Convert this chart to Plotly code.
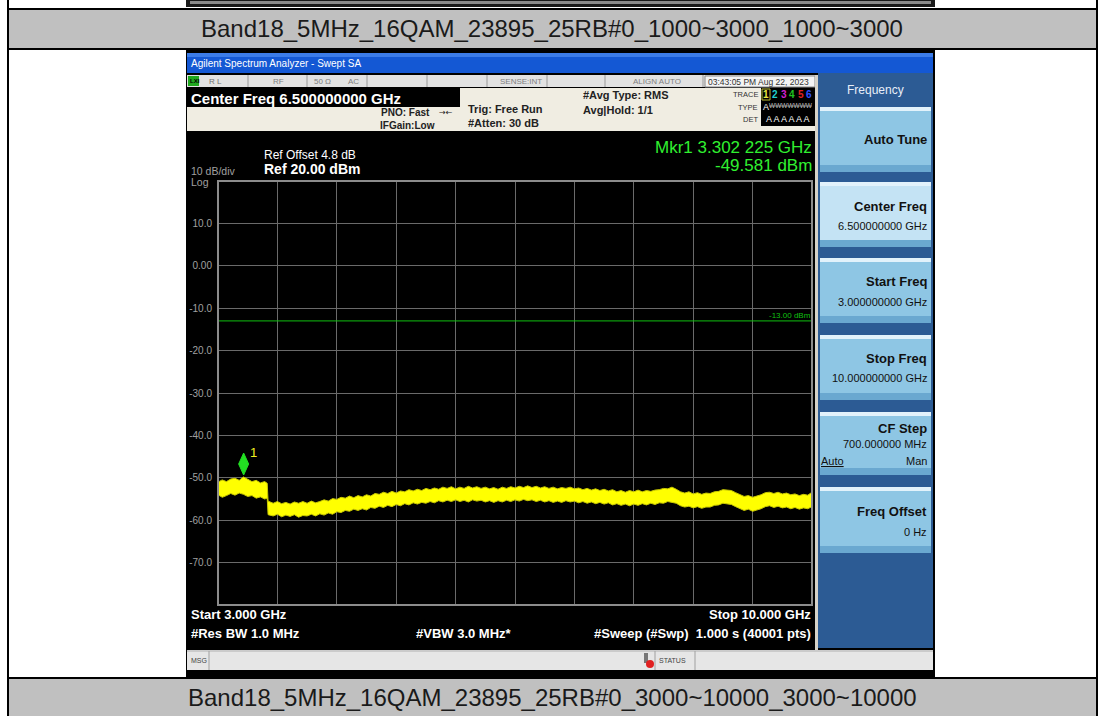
import plotly.graph_objects as go

W, H = 1105, 716

# sweep data (upper / lower edge of the noisy yellow trace)
freq_ghz = [3.00, 3.05, 3.10, 3.15, 3.20, 3.25, 3.30, 3.35, 3.40, 3.45, 3.50, 3.55, 3.58, 3.59,
            3.65, 3.70, 3.75, 3.80, 3.85, 3.90, 3.95, 4.00, 4.05, 4.10, 4.15, 4.20, 4.25, 4.30,
            4.35, 4.40, 4.45, 4.50, 4.55, 4.60, 4.65, 4.70, 4.75, 4.80, 4.85, 4.90, 4.95, 5.00,
            5.05, 5.10, 5.15, 5.20, 5.25, 5.30, 5.35, 5.40, 5.45, 5.50, 5.55, 5.60, 5.65, 5.70,
            5.75, 5.80, 5.85, 5.90, 5.95, 6.00, 6.05, 6.10, 6.15, 6.20, 6.25, 6.30, 6.35, 6.40,
            6.45, 6.50, 6.55, 6.60, 6.65, 6.70, 6.75, 6.80, 6.85, 6.90, 6.95, 7.00, 7.05, 7.10,
            7.15, 7.20, 7.25, 7.30, 7.35, 7.40, 7.45, 7.50, 7.55, 7.60, 7.65, 7.70, 7.75, 7.80,
            7.85, 7.90, 7.95, 8.00, 8.05, 8.10, 8.15, 8.20, 8.25, 8.30, 8.35, 8.40, 8.45, 8.50,
            8.55, 8.60, 8.65, 8.70, 8.75, 8.80, 8.85, 8.90, 8.95, 9.00, 9.05, 9.10, 9.15, 9.20,
            9.25, 9.30, 9.35, 9.40, 9.45, 9.50, 9.55, 9.60, 9.65, 9.70, 9.75, 9.80, 9.85, 9.90,
            9.95, 10.00]
upper_dbm = [-51.0, -50.5, -50.9, -50.3, -50.1, -50.6, -49.8, -50.4, -50.9, -50.6, -51.2, -50.9, -51.3, -55.5,
             -56.0, -55.6, -56.1, -55.8, -56.2, -55.7, -56.0, -55.6, -56.0, -55.5, -55.9, -55.6, -55.2, -55.5,
             -54.9, -55.1, -54.6, -54.8, -54.3, -54.7, -54.2, -54.5, -54.0, -54.3, -53.7, -53.9, -53.4, -53.7,
             -53.2, -53.6, -53.1, -53.3, -52.8, -53.1, -52.7, -53.0, -52.5, -52.8, -52.4, -52.7, -52.2, -52.5,
             -52.1, -52.6, -52.2, -52.5, -52.0, -52.4, -52.1, -52.5, -52.2, -52.6, -52.3, -52.7, -52.2, -52.5,
             -52.1, -52.4, -52.0, -52.3, -51.9, -52.3, -52.0, -52.4, -52.1, -52.5, -52.2, -52.6, -52.3, -52.5,
             -52.2, -52.6, -52.4, -52.8, -52.5, -52.9, -52.6, -53.0, -52.7, -53.1, -52.8, -53.3, -53.0, -53.4,
             -53.0, -53.3, -52.9, -53.3, -53.0, -53.2, -52.9, -52.8, -52.5, -52.6, -52.2, -52.7, -53.3, -53.6,
             -53.3, -53.8, -53.5, -53.9, -53.6, -53.7, -53.3, -53.2, -52.8, -52.9, -53.0, -53.5, -54.0, -54.4,
             -54.2, -54.6, -54.3, -54.0, -53.5, -53.4, -53.7, -53.4, -53.8, -53.6, -54.0, -53.8, -54.2, -53.9,
             -54.1, -53.4]
lower_dbm = [-54.0, -54.6, -54.2, -53.7, -54.1, -53.6, -53.9, -54.4, -54.2, -54.8, -54.5, -55.0, -54.8, -58.7,
             -59.0, -58.6, -59.2, -58.8, -59.1, -58.7, -59.3, -58.9, -59.0, -58.6, -59.0, -58.5, -58.8, -58.3,
             -58.6, -58.0, -58.2, -57.7, -57.9, -57.4, -57.7, -57.3, -57.6, -57.0, -57.2, -56.7, -57.0, -56.5,
             -56.8, -56.3, -56.6, -56.1, -56.4, -55.9, -56.2, -55.8, -56.0, -55.6, -55.9, -55.4, -55.7, -55.3,
             -55.6, -55.2, -55.6, -55.3, -55.7, -55.2, -55.5, -55.3, -55.7, -55.4, -55.8, -55.4, -55.7, -55.3,
             -55.6, -55.2, -55.5, -55.1, -55.4, -55.2, -55.6, -55.3, -55.7, -55.4, -55.8, -55.5, -55.8, -55.4,
             -55.7, -55.5, -55.9, -55.6, -56.0, -55.7, -56.1, -55.8, -56.2, -55.9, -56.4, -56.1, -56.5, -56.2,
             -56.6, -56.2, -56.5, -56.1, -56.4, -56.0, -56.3, -55.9, -56.0, -55.6, -55.8, -56.0, -56.6, -56.9,
             -56.7, -57.1, -56.8, -57.2, -56.9, -56.9, -56.5, -56.4, -56.0, -56.1, -56.3, -56.8, -57.2, -57.7,
             -57.4, -57.9, -57.6, -57.3, -56.8, -56.6, -57.0, -56.7, -57.1, -56.9, -57.3, -57.0, -57.4, -57.1,
             -57.3, -56.8]

start_ghz, stop_ghz = 3.0, 10.0
ref_level, bottom_level = 20, -80
y_tick_vals = [10, 0, -10, -20, -30, -40, -50, -60, -70]
y_tick_text = ["10.0", "0.00", "-10.0", "-20.0", "-30.0", "-40.0", "-50.0", "-60.0", "-70.0"]
display_line_dbm = -13.0
mkr_freq_ghz = 3.302225
mkr_level_dbm = -49.581

SANS = "Liberation Sans, Arial, sans-serif"
shapes = []
annotations = []


def box(x0, y0, x1, y1, fill, line_color=None, line_width=0):
    shapes.append(dict(type="rect", xref="paper", yref="paper", layer="below",
                       x0=x0 / W, x1=x1 / W, y0=1 - y1 / H, y1=1 - y0 / H,
                       fillcolor=fill, line=dict(color=line_color or fill, width=line_width)))


def seg(x0, y0, x1, y1, color, width=1):
    shapes.append(dict(type="line", xref="paper", yref="paper", layer="below",
                       x0=x0 / W, x1=x1 / W, y0=1 - y0 / H, y1=1 - y1 / H,
                       line=dict(color=color, width=width)))


def label(x, y, text, size=12, color="#000", anchor="left", family=SANS):
    annotations.append(dict(xref="paper", yref="paper", x=x / W, y=1 - y / H, text=text,
                            showarrow=False, xanchor=anchor, yanchor="middle", borderpad=0,
                            font=dict(size=size, color=color, family=family)))


# ---- report table around the screenshot ----
box(186, 0, 935, 7, "#1a1a1a")
box(190, 1, 931, 4, "#8c8c8c")
box(8, 9, 1097, 49, "#c0c0c0", "#000", 2)
box(8, 678, 1097, 718, "#c0c0c0", "#000", 2)
seg(8, 0, 8, 716, "#000", 2)
seg(1097, 0, 1097, 716, "#000", 2)
label(552, 28, "Band18_5MHz_16QAM_23895_25RB#0_1000~3000_1000~3000", 24, "#1a1a1a", "center",
      "Liberation Sans Narrow, Liberation Sans, Arial")
label(552, 697, "Band18_5MHz_16QAM_23895_25RB#0_3000~10000_3000~10000", 24, "#1a1a1a", "center",
      "Liberation Sans Narrow, Liberation Sans, Arial")

# ---- instrument frame ----
box(186, 50, 935, 678, "#000")
box(187, 53, 933, 73, "#1458d4")
box(187, 53, 933, 57, "#3c7ce8")
label(190, 63, "Agilent Spectrum Analyzer - Swept SA", 10, "white")

# status row
box(187, 75, 817, 87, "#e2e2e2")
for sx in [248, 307, 367, 427, 487, 547, 605, 703]:
    seg(sx, 75, sx, 87, "#9a9a9a")
box(188, 76, 199, 86, "#1fa81f")
label(189, 81, "<b>LXI</b>", 6, "#000")
label(208, 81, "R L", 8, "#707070")
label(272, 81, "RF", 8, "#808080")
label(313, 81, "50 Ω", 8, "#808080")
label(347, 81, "AC", 8, "#808080")
label(543, 81, "SENSE:INT", 8, "#808080", "right")
label(632, 81, "ALIGN AUTO", 8, "#808080")
box(705, 76, 815, 87, "#f4f4f4", "#888", 1)
label(707, 81.5, "03:43:05 PM Aug 22, 2023", 8.5, "#333")

# settings area
box(187, 88, 817, 131, "#f0ede2")
box(187, 88, 460, 107, "#000")
label(190, 98, "<b>Center Freq 6.500000000 GHz</b>", 15, "white")
label(431, 113, "<b>PNO: Fast</b>", 10, "#222", "right")
label(438, 113, "→←", 8, "#222", "left", "DejaVu Sans")
label(436, 125, "<b>IFGain:Low</b>", 10, "#222", "right")
label(467, 109, "<b>Trig: Free Run</b>", 11, "#222")
label(467, 123, "<b>#Atten: 30 dB</b>", 11, "#222")
label(582, 95, "<b>#Avg Type: RMS</b>", 11, "#222")
label(582, 110, "<b>Avg|Hold: 1/1</b>", 11, "#222")
label(759, 94, "TRACE", 7.5, "#333", "right")
label(759, 107, "TYPE", 7.5, "#333", "right")
label(759, 119, "DET", 7.5, "#333", "right")
box(761, 88, 815, 126, "#000")
box(762, 89, 770, 100, "#000", "#b8b830", 1)
for tx, tnum, tcol in [(766, "1", "#e8e840"), (775, "2", "#20d0d0"), (783.5, "3", "#d020d0"),
                       (792, "4", "#20c020"), (800.5, "5", "#e02020"), (809, "6", "#3050ff")]:
    label(tx, 94.5, "<b>" + tnum + "</b>", 10, tcol, "center")
label(766, 107, "A", 9, "white", "center")
label(791, 106, "<s>WWWWWWW</s>", 6.5, "#bbbbbb", "center")
label(788, 119, "A A A A A A", 9, "white", "center")

# display area + side strip
box(187, 131, 815, 650, "#000")
box(815, 75, 818, 650, "#d6d2c8")

# soft key panel
box(818, 73, 933, 648, "#2c5b94")
label(875, 90, "Frequency", 12, "#e8eef8", "center")
buttons = [(107, 172, "#8ec6e4"), (182, 247, "#c4e3f4"), (258, 323, "#8ec6e4"),
           (335, 400, "#8ec6e4"), (412, 475, "#8ec6e4"), (487, 553, "#8ec6e4")]
for by0, by1, bcol in buttons:
    box(820, by0, 931, by1, bcol)
    box(820, by0, 931, by0 + 4, "#e2f2fb")
    box(820, by1 - 7, 931, by1, "#6aa8d0")
label(928, 140, "<b>Auto Tune</b>", 13, "#111", "right")
label(928, 206, "<b>Center Freq</b>", 13, "#111", "right")
label(928, 226, "6.500000000 GHz", 11, "#111", "right")
label(928, 282, "<b>Start Freq</b>", 13, "#111", "right")
label(928, 302, "3.000000000 GHz", 11, "#111", "right")
label(928, 358, "<b>Stop Freq</b>", 13, "#111", "right")
label(928, 378, "10.000000000 GHz", 11, "#111", "right")
label(928, 428, "<b>CF Step</b>", 13, "#111", "right")
label(928, 444, "700.000000 MHz", 11, "#111", "right")
label(820, 461, "<u>Auto</u>", 11, "#111")
label(928, 461, "Man", 11, "#111", "right")
label(928, 511, "<b>Freq Offset</b>", 13, "#111", "right")
label(928, 532, "0 Hz", 11, "#111", "right")

# message bar
box(187, 650, 933, 670, "#e6e6e6")
seg(187, 651, 933, 651, "#b0b0b0")
seg(209, 651, 209, 670, "#a0a0a0")
seg(655, 651, 655, 670, "#a0a0a0")
seg(695, 651, 695, 670, "#a0a0a0")
label(190, 660, "MSG", 7, "#444")
label(658, 660, "STATUS", 7, "#444")
box(644, 653, 648, 663, "#777")
shapes.append(dict(type="circle", xref="paper", yref="paper", layer="below",
                   x0=646 / W, x1=654 / W, y0=1 - 668 / H, y1=1 - 660 / H,
                   fillcolor="#e02020", line=dict(color="#e02020", width=0)))

# display texts
label(263, 155, "Ref Offset 4.8 dB", 12, "white")
label(263, 169, "<b>Ref 20.00 dBm</b>", 14, "white")
label(190, 171, "10 dB/div", 10.5, "#a0a0a0")
label(190, 182, "Log", 10.5, "#a0a0a0")
label(813, 147, "Mkr1 3.302 225 GHz", 17, "#30f030", "right")
label(813, 165, "-49.581 dBm", 17, "#30f030", "right")
label(190, 614, "<b>Start 3.000 GHz</b>", 13, "white")
label(812, 614, "<b>Stop 10.000 GHz</b>", 13, "white", "right")
label(190, 633, "<b>#Res BW 1.0 MHz</b>", 13, "white")
label(415, 633, "<b>#VBW 3.0 MHz*</b>", 13, "white")
label(812, 633, "<b>#Sweep (#Swp)&nbsp; 1.000 s (40001 pts)</b>", 13, "white", "right")

# graticule border
shapes.append(dict(type="rect", xref="x domain", yref="y domain", x0=0, x1=1, y0=0, y1=1,
                   line=dict(color="#8c8c8c", width=2), layer="above"))

# marker diamond sitting on the marked point
shapes.append(dict(type="path", xref="x", yref="y", xsizemode="pixel", ysizemode="pixel",
                   xanchor=mkr_freq_ghz, yanchor=mkr_level_dbm,
                   path="M 0 1 L -5 12 L 0 23 L 5 12 Z",
                   fillcolor="#22e022", line=dict(color="#22e022", width=1), layer="above"))
annotations.append(dict(xref="x", yref="y", x=mkr_freq_ghz, y=mkr_level_dbm, text="1",
                        showarrow=False, xshift=10, yshift=24,
                        font=dict(size=13, color="#f0f020", family=SANS)))
annotations.append(dict(xref="x", yref="y", x=stop_ghz, y=display_line_dbm, text="-13.00 dBm",
                        showarrow=False, xanchor="right", yanchor="bottom", borderpad=0,
                        font=dict(size=8, color="#10c010", family=SANS)))

fig = go.Figure()
fig.add_trace(go.Scatter(x=[start_ghz, stop_ghz], y=[display_line_dbm, display_line_dbm],
                         mode="lines", line=dict(color="#10c010", width=1), hoverinfo="skip"))
fig.add_trace(go.Scatter(x=freq_ghz, y=lower_dbm, mode="lines",
                         line=dict(color="#c8c800", width=1)))
fig.add_trace(go.Scatter(x=freq_ghz, y=upper_dbm, mode="lines", fill="tonexty",
                         fillcolor="#ffff00", line=dict(color="#c8c800", width=1)))

fig.update_layout(
    width=W, height=H, margin=dict(l=0, r=0, t=0, b=0), template="none",
    paper_bgcolor="white", plot_bgcolor="rgba(0,0,0,0)", showlegend=False,
    shapes=shapes, annotations=annotations,
    xaxis=dict(domain=[218 / W, 812 / W], range=[start_ghz, stop_ghz], tick0=start_ghz, dtick=0.7,
               showgrid=True, gridcolor="#6a6a6a", gridwidth=1, showticklabels=False,
               zeroline=False, showline=False, ticks=""),
    yaxis=dict(domain=[1 - 605 / H, 1 - 181 / H], range=[bottom_level, ref_level],
               tickvals=y_tick_vals, ticktext=y_tick_text, showgrid=True, gridcolor="#6a6a6a",
               gridwidth=1, zeroline=False, showline=False, ticks="outside", ticklen=3,
               tickcolor="#000", tickfont=dict(size=10, color="#a0a0a0", family=SANS)),
)

fig.write_html("out.html", config={"displayModeBar": False},
               post_script="document.body.style.margin = '0px';")
